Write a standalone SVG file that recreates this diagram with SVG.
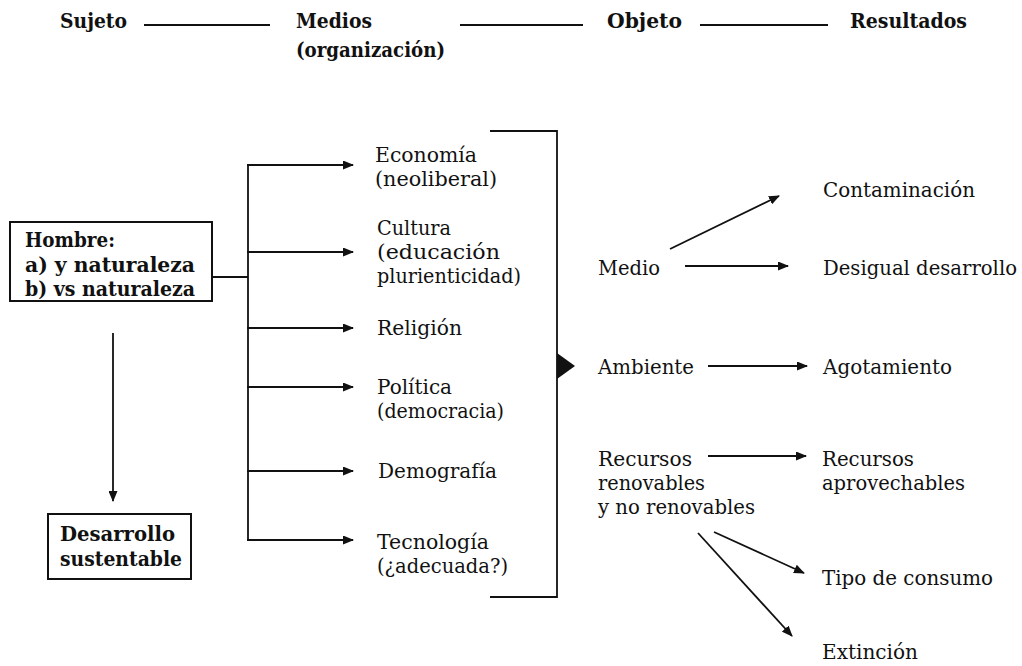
<svg xmlns="http://www.w3.org/2000/svg" width="1022" height="666" viewBox="0 0 1022 666">
  <style>
    .bg { fill: #ffffff; }
    .b { font-family: 'DejaVu Serif', 'Liberation Serif', serif; font-weight: bold; font-size: 20px; fill: #111; }
    .h { font-size: 21px; }
    .r { font-family: 'DejaVu Serif', 'Liberation Serif', serif; font-size: 19.5px; fill: #111; }
    .ln { stroke: #111; stroke-width: 1.8; fill: none; }
    .ar { stroke: #111; stroke-width: 1.8; fill: none; marker-end: url(#head); }
    .box { stroke: #111; stroke-width: 2; fill: #fff; }
  </style>
  <defs>
    <marker id="head" markerUnits="userSpaceOnUse" markerWidth="11" markerHeight="9" refX="10" refY="4.5" orient="auto">
      <path d="M0,0 L11,4.5 L0,9 z" fill="#111"/>
    </marker>
  </defs>
  <rect class="bg" x="0" y="0" width="1022" height="666"/>

  <!-- header row -->
  <g id="header">
    <text class="b h" x="60" y="28" textLength="67" lengthAdjust="spacingAndGlyphs">Sujeto</text>
    <text class="b h" x="296" y="28" textLength="76" lengthAdjust="spacingAndGlyphs">Medios</text>
    <text class="b h" x="296" y="57" textLength="149" lengthAdjust="spacingAndGlyphs">(organización)</text>
    <text class="b h" x="607" y="28" textLength="75" lengthAdjust="spacingAndGlyphs">Objeto</text>
    <text class="b h" x="850" y="28" textLength="117" lengthAdjust="spacingAndGlyphs">Resultados</text>
    <line class="ln" x1="144" y1="25" x2="270" y2="25"/>
    <line class="ln" x1="460" y1="25" x2="583" y2="25"/>
    <line class="ln" x1="700" y1="25" x2="828" y2="25"/>
  </g>

  <!-- subject -->
  <g id="hombre">
    <rect class="box" x="10" y="222" width="202" height="79"/>
    <text class="b" x="25" y="247" textLength="90" lengthAdjust="spacingAndGlyphs">Hombre:</text>
    <text class="b" x="25" y="272" textLength="170" lengthAdjust="spacingAndGlyphs">a) y naturaleza</text>
    <text class="b" x="25" y="296" textLength="170" lengthAdjust="spacingAndGlyphs">b) vs naturaleza</text>
  </g>
  <g id="desarrollo">
    <rect class="box" x="48" y="514" width="143" height="65"/>
    <text class="b" x="60" y="541" textLength="115" lengthAdjust="spacingAndGlyphs">Desarrollo</text>
    <text class="b" x="60" y="566" textLength="122" lengthAdjust="spacingAndGlyphs">sustentable</text>
  </g>

  <!-- means -->
  <g id="economia">
    <text class="r" x="375" y="162" textLength="102" lengthAdjust="spacingAndGlyphs">Economía</text>
    <text class="r" x="375" y="186" textLength="122" lengthAdjust="spacingAndGlyphs">(neoliberal)</text>
  </g>
  <g id="cultura">
    <text class="r" x="377" y="235" textLength="74" lengthAdjust="spacingAndGlyphs">Cultura</text>
    <text class="r" x="377" y="259" textLength="123" lengthAdjust="spacingAndGlyphs">(educación</text>
    <text class="r" x="377" y="283" textLength="144" lengthAdjust="spacingAndGlyphs">plurienticidad)</text>
  </g>
  <g id="religion">
    <text class="r" x="377" y="335" textLength="85" lengthAdjust="spacingAndGlyphs">Religión</text>
  </g>
  <g id="politica">
    <text class="r" x="377" y="394" textLength="75" lengthAdjust="spacingAndGlyphs">Política</text>
    <text class="r" x="377" y="418" textLength="127" lengthAdjust="spacingAndGlyphs">(democracia)</text>
  </g>
  <g id="demografia">
    <text class="r" x="378" y="478" textLength="119" lengthAdjust="spacingAndGlyphs">Demografía</text>
  </g>
  <g id="tecnologia">
    <text class="r" x="377" y="549" textLength="112" lengthAdjust="spacingAndGlyphs">Tecnología</text>
    <text class="r" x="377" y="573" textLength="131" lengthAdjust="spacingAndGlyphs">(¿adecuada?)</text>
  </g>

  <!-- object -->
  <g id="medio">
    <text class="r" x="598" y="275" textLength="62" lengthAdjust="spacingAndGlyphs">Medio</text>
  </g>
  <g id="ambiente">
    <text class="r" x="598" y="374" textLength="96" lengthAdjust="spacingAndGlyphs">Ambiente</text>
  </g>
  <g id="recursos">
    <text class="r" x="598" y="466" textLength="94" lengthAdjust="spacingAndGlyphs">Recursos</text>
    <text class="r" x="598" y="490" textLength="107" lengthAdjust="spacingAndGlyphs">renovables</text>
    <text class="r" x="598" y="514" textLength="157" lengthAdjust="spacingAndGlyphs">y no renovables</text>
  </g>

  <!-- results -->
  <g id="contaminacion">
    <text class="r" x="823" y="197" textLength="152" lengthAdjust="spacingAndGlyphs">Contaminación</text>
  </g>
  <g id="desigual">
    <text class="r" x="823" y="275" textLength="194" lengthAdjust="spacingAndGlyphs">Desigual desarrollo</text>
  </g>
  <g id="agotamiento">
    <text class="r" x="823" y="374" textLength="129" lengthAdjust="spacingAndGlyphs">Agotamiento</text>
  </g>
  <g id="aprovechables">
    <text class="r" x="822" y="466" textLength="92" lengthAdjust="spacingAndGlyphs">Recursos</text>
    <text class="r" x="822" y="490" textLength="143" lengthAdjust="spacingAndGlyphs">aprovechables</text>
  </g>
  <g id="consumo">
    <text class="r" x="822" y="585" textLength="171" lengthAdjust="spacingAndGlyphs">Tipo de consumo</text>
  </g>
  <g id="extincion">
    <text class="r" x="822" y="659" textLength="96" lengthAdjust="spacingAndGlyphs">Extinción</text>
  </g>

  <!-- connectors -->
  <g id="connectors">
    <line class="ar" x1="113" y1="333" x2="113" y2="501"/>
    <line class="ln" x1="212" y1="277" x2="248" y2="277"/>
    <line class="ln" x1="248" y1="164" x2="248" y2="541"/>
    <line class="ar" x1="247" y1="165" x2="353" y2="165"/>
    <line class="ar" x1="247" y1="252" x2="353" y2="252"/>
    <line class="ar" x1="247" y1="328" x2="353" y2="328"/>
    <line class="ar" x1="247" y1="387" x2="353" y2="387"/>
    <line class="ar" x1="247" y1="471" x2="353" y2="471"/>
    <line class="ar" x1="247" y1="540" x2="353" y2="540"/>
    <path class="ln" d="M490,131 H557 V597 H490"/>
    <path d="M557,353 L575,366 L557,379 z" fill="#111"/>
    <line class="ar" x1="670" y1="249" x2="779" y2="196"/>
    <line class="ar" x1="685" y1="266" x2="788" y2="266"/>
    <line class="ar" x1="708" y1="366" x2="807" y2="366"/>
    <line class="ar" x1="708" y1="456" x2="806" y2="456"/>
    <line class="ar" x1="714" y1="532" x2="804" y2="573"/>
    <line class="ar" x1="698" y1="533" x2="792" y2="636"/>
  </g>
</svg>
